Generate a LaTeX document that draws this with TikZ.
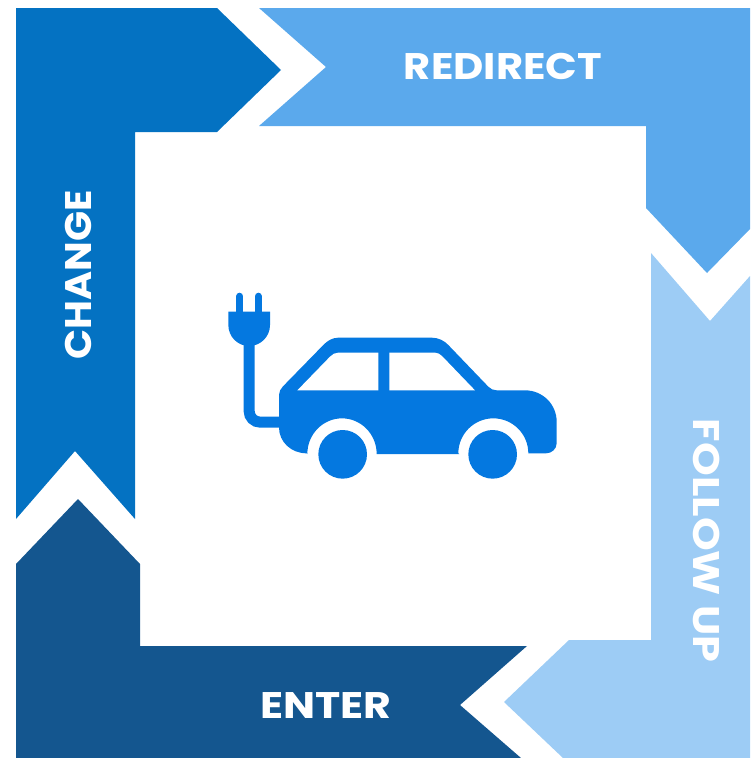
\documentclass[tikz,border=0pt]{standalone}
\usepackage{fontspec}
\setmainfont{Poppins}
\definecolor{changeblue}{HTML}{0472C2}
\definecolor{redirectblue}{HTML}{5BA9EC}
\definecolor{followblue}{HTML}{9DCCF5}
\definecolor{enterblue}{HTML}{14568F}
\definecolor{carblue}{HTML}{0478E0}
\tikzset{
    steplabel/.style={text=white, inner sep=0pt, font=\fontsize{37}{37}\selectfont\bfseries\addfontfeatures{FakeStretch=#1}},
    prongline/.style={draw=carblue, line width=7.3pt, line cap=round}
}

\begin{document}
\begin{tikzpicture}[x=1pt, y=-1pt]
    \useasboundingbox (0,0) rectangle (750,758);

    \fill[changeblue] (16,8) -- (217,8) -- (281,70) -- (217,132) -- (135,132) -- (135,519) -- (75,451) -- (16,519) -- cycle;
    \fill[redirectblue] (259,8) -- (750,8) -- (750,229) -- (707,273) -- (646,208) -- (646,126) -- (259,126) -- (326,67) -- cycle;
    \fill[followblue] (651,253) -- (710,321) -- (750,276) -- (750,758) -- (563,758) -- (504,702) -- (569,640) -- (651,640) -- cycle;
    \fill[enterblue] (16,564) -- (78,499) -- (140,564) -- (140,646) -- (527,646) -- (460,705) -- (521,758) -- (16,758) -- cycle;

    \node[steplabel=1.125] (redirect) at (503,66) {REDIRECT};
    \node[steplabel=1.068, rotate=90] (change) at (78,275) {CHANGE};
    \node[steplabel=1.16, rotate=-90] (follow) at (707,540.5) {FOLLOW UP};
    \node[steplabel=1.153] (enter) at (326,706) {ENTER};

    \begin{scope}[shift={(210,280)}, x=1pt/3, y=-1pt/3]
        \fill[carblue] (207,345) .. controls (207,335) and (212,327) .. (218,320) -- (340,195)
            .. controls (352,182) and (368,173) .. (385,173) -- (665,173)
            .. controls (685,173) and (703,182) .. (715,195) -- (835,320)
            .. controls (842,327) and (850,331) .. (860,331) -- (945,331)
            .. controls (998,331) and (1040,373) .. (1040,425) -- (1040,490)
            .. controls (1040,507) and (1025,520) .. (1008,520) -- (955,520)
            arc[start angle=0, end angle=180, x radius=105, y radius=-105] -- (748,522) -- (500,522)
            arc[start angle=0, end angle=180, x radius=104, y radius=-107]
            .. controls (292,520) and (292,520) .. (290,520)
            .. controls (243,520) and (207,485) .. (207,443) -- cycle;
        \fill[white] (262,331) -- (360,230) .. controls (367,222) and (376,218) .. (385,218) -- (505,218) -- (505,331) -- cycle;
        \fill[white] (538,218) -- (675,218) .. controls (683,218) and (690,222) .. (696,228) -- (795,331) -- (538,331) -- cycle;
        \fill[carblue] (398,523) circle[radius=73];
        \fill[carblue] (848,523) circle[radius=73];
        \fill[carblue] (55,95) -- (180,95) -- (180,135) .. controls (180,170) and (152,198) .. (117,198)
            .. controls (83,198) and (55,170) .. (55,135) -- cycle;
        \draw[prongline] (89,49) -- (89,95);
        \draw[prongline] (145,49) -- (145,95);
        \draw[carblue, line width=11pt, rounded corners=11pt] (117.5,190) -- (117.5,426.5) -- (215,426.5);
    \end{scope}
\end{tikzpicture}
\end{document}
